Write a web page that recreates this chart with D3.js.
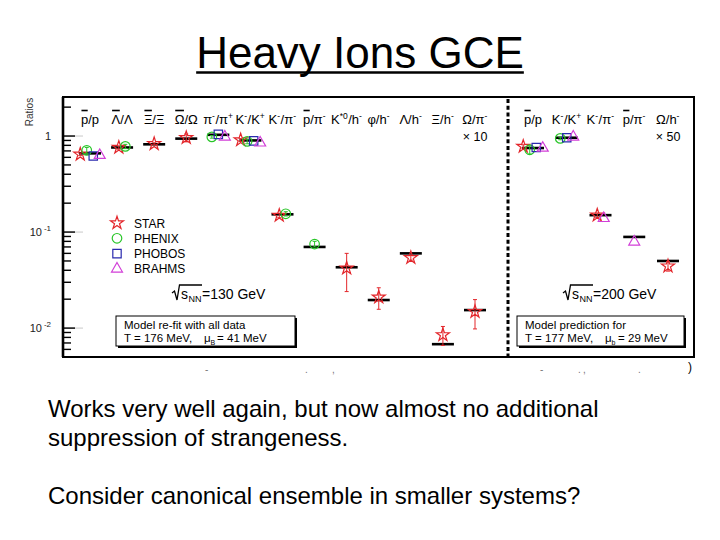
<!DOCTYPE html>
<html><head><meta charset="utf-8">
<script src="https://cdn.jsdelivr.net/npm/d3@7"></script>
<style>
body{margin:0;background:#fff}
svg{display:block}
text{font-family:"Liberation Sans",Arial,Helvetica,sans-serif}
</style>
</head><body>
<svg id="c" width="720" height="540"></svg>
<script>
// ---------------- data ----------------
const titleText = "Heavy Ions GCE";
const bodyLines = ["Works very well again, but now almost no additional",
                   "suppression of strangeness.",
                   "",
                   "Consider canonical ensemble in smaller systems?"];

const seriesNames = ["STAR", "PHENIX", "PHOBOS", "BRAHMS"];

// 130 GeV panel
const categories130  = ["~p/p","~Λ/Λ","~Ξ/Ξ","~Ω/Ω","π^-/π^+","K^-/K^+","K^-/π^-","~p/π^-","K^*0/h^-","φ/h^-","Λ/h^-","Ξ/h^-","Ω/π^-"];
const multipliers130 = ["","","","","","","","","","","","","× 10"];
const model130    = [0.66, 0.76, 0.82, 0.94, 1.03, 0.90, 0.153, 0.070, 0.043, 0.0196, 0.060, 0.0068, 0.0154];
const star130     = [0.645,0.76, 0.83, 0.96, null, 0.91, 0.149, null,  0.042, 0.021,  0.054, 0.0085, 0.0148];
const starErr130  = [0.02, 0.03, 0.02, 0.09, null, 0.03, 0.008, null,  0.018, 0.0053, 0.003, 0.0019, 0.005];
const phenix130   = [0.71, 0.78, null, null, 0.98, 0.88, 0.155, 0.075, null,  null,   null,  null,   null];
const phenixErr130= [0.05, 0.04, null, null, 0.03, 0.05, 0.008, 0.005, null,  null,   null,  null,   null];
const phobos130   = [0.62, null, null, null, 1.04, 0.89, null,  null,  null,  null,   null,  null,   null];
const brahms130   = [0.63, null, null, null, 0.98, 0.85, null,  null,  null,  null,   null,  null,   null];

// 200 GeV panel
const categories200  = ["~p/p","K^-/K^+","K^-/π^-","~p/π^-","Ω/h^-"];
const multipliers200 = ["","","","","× 50"];
const model200    = [0.75, 0.96, 0.150, 0.089, 0.050];
const star200     = [0.78, null, 0.150, null,  0.0442];
const starErr200  = [0.03, null, 0.008, null,  0.005];
const phenix200   = [0.72, 0.945,null,  null,  null];
const phenixErr200= [0.07, 0.03, null,  null,  null];
const phobos200   = [0.76, 0.96, null,  null,  null];
const brahms200   = [0.75, 0.98, 0.139, 0.079, null];

const yTickValues = [1, 0.1, 0.01];
const yTickLabels = ["1", "10^-1", "10^-2"];
const yAxisTitle = "Ratios";

const energyLabels = ["130 GeV", "200 GeV"];
const boxLines130 = ["Model re-fit with all data", ["T = 176 MeV,", "B", "= 41 MeV"]];
const boxLines200 = ["Model prediction for", ["T = 177 MeV,", "b", "= 29 MeV"]];

// ---------------- layout ----------------
const svg = d3.select("#c");
const frame = {l: 63, t: 97, r: 694, b: 357};
const sepX = 508;
const y = d3.scaleLog().domain([0.005, 2.55]).range([frame.b, frame.t]);
const x130 = d3.scalePoint().domain(d3.range(categories130.length)).range([90, 475]);
const x200 = d3.scalePoint().domain(d3.range(categories200.length)).range([533, 668]);

const colors = {STAR: "#e3262b", PHENIX: "#29c629", PHOBOS: "#2a2aae", BRAHMS: "#d23fd8"};
const shapes = {STAR: d3.symbolStar, PHENIX: d3.symbolCircle, PHOBOS: d3.symbolSquare, BRAHMS: d3.symbolTriangle};
const sizes  = {STAR: 52, PHENIX: 72, PHOBOS: 70, BRAHMS: 52};
const sym = name => d3.symbol().type(shapes[name]).size(sizes[name])();

// ---------------- title ----------------
const title = svg.append("text").attr("x", 360).attr("y", 68).attr("text-anchor", "middle")
  .attr("font-size", 44).attr("fill", "#000").text(titleText);
const tw = title.node().getComputedTextLength();
svg.append("line").attr("x1", 360 - tw / 2).attr("x2", 360 + tw / 2)
  .attr("y1", 72.5).attr("y2", 72.5).attr("stroke", "#000").attr("stroke-width", 2.5);

// ---------------- body text ----------------
bodyLines.forEach((t, i) => {
  svg.append("text").attr("x", 48).attr("y", 417 + i * 29).attr("font-size", 24)
    .attr("fill", "#000").text(t);
});

// ---------------- axes / frame ----------------
const ax = svg.append("g");
y.ticks().forEach(v => {
  const major = Math.abs(Math.log10(v) - Math.round(Math.log10(v))) < 1e-9;
  if (major) {
    ax.append("line").attr("x1", frame.l).attr("x2", frame.l + 20)
      .attr("y1", y(v)).attr("y2", y(v)).attr("stroke", "#c8c8c8").attr("stroke-width", 1);
  }
  ax.append("line").attr("x1", frame.l).attr("x2", frame.l + (major ? 12 : 8))
    .attr("y1", y(v)).attr("y2", y(v)).attr("stroke", "#000").attr("stroke-width", 1.4);
});
yTickValues.forEach((v, i) => {
  const lab = yTickLabels[i];
  const t = ax.append("text").attr("x", 51).attr("y", y(v) + 4).attr("text-anchor", "end")
    .attr("font-size", 11).attr("fill", "#222");
  if (lab.includes("^")) {
    const [base, sup] = lab.split("^");
    t.append("tspan").text(base);
    t.append("tspan").attr("dy", -5).attr("font-size", 8).attr("dx", 2).text(sup);
  } else t.text(lab);
});
ax.append("text").attr("transform", `translate(33,112) rotate(-90)`).attr("text-anchor", "middle")
  .attr("font-size", 10).attr("fill", "#333").text(yAxisTitle);

svg.append("rect").attr("x", frame.l).attr("y", frame.t)
  .attr("width", frame.r - frame.l).attr("height", frame.b - frame.t)
  .attr("fill", "none").attr("stroke", "#000").attr("stroke-width", 2);
svg.append("line").attr("x1", frame.l).attr("x2", frame.l).attr("y1", frame.t).attr("y2", frame.b)
  .attr("stroke", "#000").attr("stroke-width", 2.6);
svg.append("line").attr("x1", sepX).attr("x2", sepX).attr("y1", frame.t + 2).attr("y2", frame.b)
  .attr("stroke", "#000").attr("stroke-width", 3).attr("stroke-dasharray", "4,2.7");

// ---------------- category labels ----------------
function parseLabel(s) {
  const segs = [];
  let i = 0, cur = "";
  const flush = () => { if (cur) { segs.push({t: cur, sup: false, bar: false}); cur = ""; } };
  while (i < s.length) {
    const c = s[i];
    if (c === "~") { flush(); segs.push({t: s[i + 1], sup: false, bar: true}); i += 2; }
    else if (c === "^") {
      flush(); let j = i + 1, sp = "";
      while (j < s.length && s[j] !== "/") { sp += s[j]; j++; }
      segs.push({t: sp, sup: true, bar: false}); i = j;
    } else { cur += c; i++; }
  }
  flush();
  return segs;
}
function drawLabel(str, cx, base) {
  const g = svg.append("g");
  let xx = 0;
  parseLabel(str).forEach(sg => {
    const t = g.append("text").attr("x", xx).attr("y", sg.sup ? base - 5 : base)
      .attr("font-size", sg.sup ? 8.5 : 13).attr("fill", "#000").text(sg.t);
    const w = t.node().getComputedTextLength();
    if (sg.bar) {
      g.append("line").attr("x1", xx + 0.5).attr("x2", xx + w - 0.5)
        .attr("y1", base - 13.5).attr("y2", base - 13.5).attr("stroke", "#000").attr("stroke-width", 1.6);
    }
    xx += w + (sg.sup ? 0.5 : 0);
  });
  g.attr("transform", `translate(${cx - xx / 2},0)`);
}
categories130.forEach((c, i) => {
  drawLabel(c, x130(i), 124);
  if (multipliers130[i]) svg.append("text").attr("x", x130(i)).attr("y", 141).attr("text-anchor", "middle")
    .attr("font-size", 12.5).text(multipliers130[i]);
});
categories200.forEach((c, i) => {
  drawLabel(c, x200(i), 124);
  if (multipliers200[i]) svg.append("text").attr("x", x200(i)).attr("y", 141).attr("text-anchor", "middle")
    .attr("font-size", 12.5).text(multipliers200[i]);
});

// ---------------- data marks ----------------
function drawPanel(xs, model, series) {
  const g = svg.append("g");
  model.forEach((m, i) => {
    g.append("line").attr("x1", xs(i) - 11).attr("x2", xs(i) + 11)
      .attr("y1", y(m)).attr("y2", y(m)).attr("stroke", "#000").attr("stroke-width", 2.6);
  });
  model.forEach((m, i) => {
    const present = series.filter(s => s.vals[i] != null);
    const n = present.length;
    present.forEach((s, k) => {
      const px = xs(i) + (k - (n - 1) / 2) * 6.5;
      const v = s.vals[i];
      const col = colors[s.name];
      const e = s.errs ? s.errs[i] : null;
      if (e) {
        g.append("line").attr("x1", px).attr("x2", px).attr("y1", y(v + e)).attr("y2", y(Math.max(v - e, 1e-4)))
          .attr("stroke", col).attr("stroke-width", 1);
        [v + e, v - e].forEach(vv => g.append("line").attr("x1", px - 2).attr("x2", px + 2)
          .attr("y1", y(vv)).attr("y2", y(vv)).attr("stroke", col).attr("stroke-width", 1));
      }
      g.append("path").attr("d", sym(s.name)).attr("transform", `translate(${px},${y(v)})`)
        .attr("fill", "none").attr("stroke", col).attr("stroke-width", 1.2);
    });
  });
}
drawPanel(x130, model130, [
  {name: "STAR", vals: star130, errs: starErr130},
  {name: "PHENIX", vals: phenix130, errs: phenixErr130},
  {name: "PHOBOS", vals: phobos130},
  {name: "BRAHMS", vals: brahms130}]);
drawPanel(x200, model200, [
  {name: "STAR", vals: star200, errs: starErr200},
  {name: "PHENIX", vals: phenix200, errs: phenixErr200},
  {name: "PHOBOS", vals: phobos200},
  {name: "BRAHMS", vals: brahms200}]);

// ---------------- legend ----------------
seriesNames.forEach((nm, i) => {
  const yy = 223 + i * 15.3;
  svg.append("path").attr("d", sym(nm)).attr("transform", `translate(117,${yy})`)
    .attr("fill", "none").attr("stroke", colors[nm]).attr("stroke-width", 1.2);
  svg.append("text").attr("x", 134).attr("y", yy + 4.5).attr("font-size", 12).attr("fill", "#000").text(nm);
});

// ---------------- sqrt(sNN) labels ----------------
function sqrtLabel(x0, base, energy) {
  const g = svg.append("g");
  const s = g.append("text").attr("x", x0 + 9).attr("y", base).attr("font-size", 14).text("s");
  const sw = s.node().getComputedTextLength();
  const nn = g.append("text").attr("x", x0 + 9 + sw + 0.5).attr("y", base + 3).attr("font-size", 9).text("NN");
  const nw = nn.node().getComputedTextLength();
  const endBar = x0 + 9 + sw + 0.5 + nw + 0.5;
  g.append("path").attr("d", `M${x0},${base - 6} L${x0 + 2.5},${base - 8} L${x0 + 5},${base + 1} L${x0 + 7.5},${base - 14} L${endBar},${base - 14}`)
    .attr("fill", "none").attr("stroke", "#000").attr("stroke-width", 1.3);
  g.append("text").attr("x", endBar).attr("y", base).attr("font-size", 14).text("=" + energy);
}
sqrtLabel(172, 299, energyLabels[0]);
sqrtLabel(563, 299, energyLabels[1]);

// ---------------- model boxes ----------------
function modelBox(x0, y0, w, h, lines) {
  const g = svg.append("g");
  g.append("rect").attr("x", x0 + 2).attr("y", y0 + 2).attr("width", w).attr("height", h).attr("fill", "#000");
  g.append("rect").attr("x", x0).attr("y", y0).attr("width", w).attr("height", h)
    .attr("fill", "#fff").attr("stroke", "#000").attr("stroke-width", 1);
  g.append("text").attr("x", x0 + 8).attr("y", y0 + 13).attr("font-size", 11.5).text(lines[0]);
  const [a, sub, b] = lines[1];
  const t1 = g.append("text").attr("x", x0 + 8).attr("y", y0 + 26).attr("font-size", 11.5).text(a);
  const w1 = t1.node().getComputedTextLength();
  const mx = x0 + 8 + w1 + 12;
  g.append("text").attr("x", mx).attr("y", y0 + 26).attr("font-size", 11.5).text("μ");
  g.append("text").attr("x", mx + 6.5).attr("y", y0 + 29).attr("font-size", 7).text(sub);
  g.append("text").attr("x", mx + 13).attr("y", y0 + 26).attr("font-size", 11.5).text(b);
}
modelBox(116, 316, 179, 30, boxLines130);
modelBox(517, 316, 167, 30, boxLines200);

// ---------------- remnants below frame ----------------
const remnants = [["-", 205], [".", 305], [",", 332], ["-", 540], [".", 578], [",", 583], [".", 638]];
remnants.forEach(([t, xx]) => svg.append("text").attr("x", xx).attr("y", 373).attr("font-size", 10)
  .attr("fill", "#777").text(t));
svg.append("text").attr("x", 688).attr("y", 371).attr("font-size", 12).attr("fill", "#000").text(")");
</script>
</body></html>
